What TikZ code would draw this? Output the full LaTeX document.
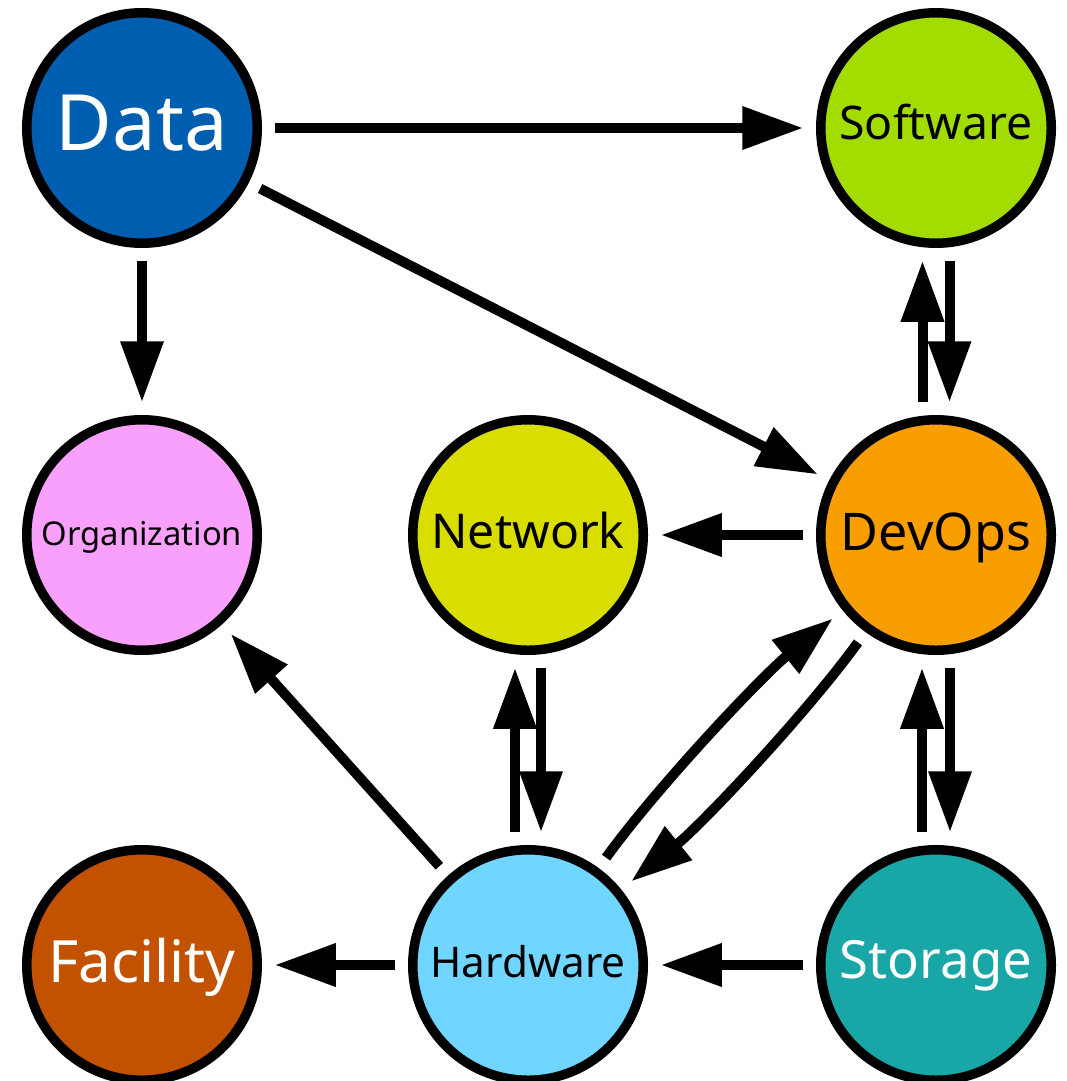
\documentclass[tikz,border=0pt]{standalone}
\usepackage{fontspec}
\setmainfont{Noto Sans}
\usepackage{graphicx}
\usetikzlibrary{arrows.meta}

\definecolor{cData}{HTML}{005EB0}
\definecolor{cSoftware}{HTML}{A3DC00}
\definecolor{cOrg}{HTML}{F9A0FC}
\definecolor{cNetwork}{HTML}{DADE00}
\definecolor{cDevOps}{HTML}{F99E00}
\definecolor{cFacility}{HTML}{C35200}
\definecolor{cHardware}{HTML}{70D6FF}
\definecolor{cStorage}{HTML}{18A6A6}

% label scaled to a given width (pt), baseline dropped by a given amount (pt)
\newcommand\disclabel[3]{\raisebox{-#2pt}[0pt][0pt]{\resizebox{#1pt}{!}{#3}}}

\tikzset{
  disc/.style={circle, draw=black, line width=9.5pt, minimum size=230.5pt,
               inner sep=0pt, outer sep=17.5pt},
  link/.style={line width=10pt, -{Triangle[length=61pt,width=41pt]}},
}

\begin{document}
\begin{tikzpicture}[x=1pt,y=1pt]
\useasboundingbox (0,0) rectangle (1066,-1081);
\fill[white] (0,0) rectangle (1066,-1081);

% nodes
\node[disc, fill=cData, text=white]     (data) at (142,-128) {\disclabel{172}{22}{Data}};
\node[disc, fill=cSoftware]             (sw)   at (936,-128) {\disclabel{193}{12}{Software}};
\node[disc, fill=cOrg]                  (org)  at (142,-535) {\disclabel{200}{10}{Organization}};
\node[disc, fill=cNetwork]              (net)  at (528,-535) {\disclabel{193}{13}{Network}};
\node[disc, fill=cDevOps]               (dev)  at (936,-535) {\disclabel{190}{15}{DevOps}};
\node[disc, fill=cFacility, text=white] (fac)  at (142,-965) {\disclabel{187}{17}{Facility}};
\node[disc, fill=cHardware]             (hw)   at (528,-965) {\disclabel{195}{12}{Hardware}};
\node[disc, fill=cStorage, text=white]  (sto)  at (936,-965) {\disclabel{192}{13}{Storage}};

% connectors
\draw[link] (data) -- (sw);
\draw[link] (data) -- (org);
\draw[link] (data) -- (dev);
\draw[link, transform canvas={xshift=-13.5pt}] (dev) -- (sw);
\draw[link, transform canvas={xshift=13.5pt}] (sw) -- (dev);
\draw[link] (dev) -- (net);
\draw[link, transform canvas={xshift=-13pt}] (hw) -- (net);
\draw[link, transform canvas={xshift=13pt}] (net) -- (hw);
\draw[link] (hw) to[out=54,in=219,looseness=0.7] (dev);
\draw[link] (dev) to[out=234,in=39,looseness=0.7] (hw);
\draw[link, transform canvas={xshift=-14pt}] (sto) -- (dev);
\draw[link, transform canvas={xshift=14pt}] (dev) -- (sto);
\draw[link] (hw) -- (org);
\draw[link] (hw) -- (fac);
\draw[link] (sto) -- (hw);
\end{tikzpicture}
\end{document}
